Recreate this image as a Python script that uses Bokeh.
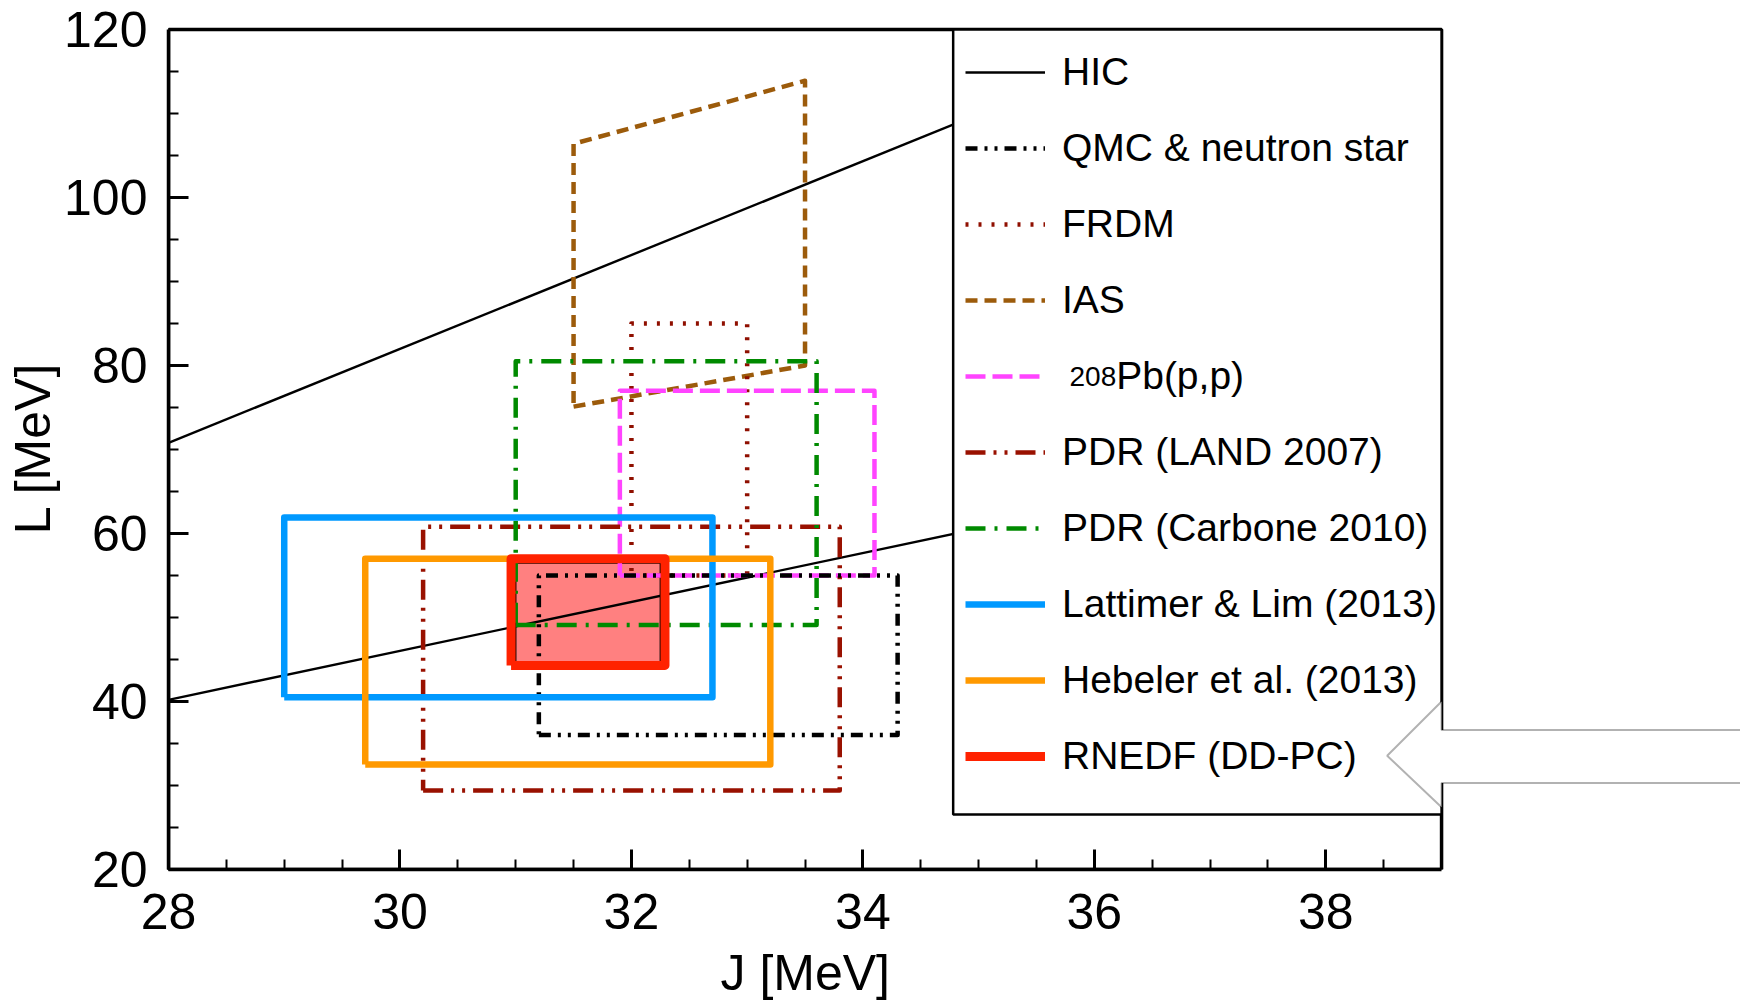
from bokeh.plotting import figure
from bokeh.models import (Range1d, Legend, LegendItem, BoxAnnotation, PolyAnnotation,
                          Label, SingleIntervalTicker, Title)
from bokeh.embed import file_html
from bokeh.resources import INLINE

# HIC band, two straight lines (the rest is hidden by the legend)
hic_j = [28.0, 36.0]
hic_upper = [70.8, 115.5]
hic_lower = [40.2, 63.5]

# rectangular constraints (J range, L range)
rect_keys = ["qmc", "frdm", "pb", "land", "carbone", "lattimer", "hebeler", "rnedf"]
rect_j_lo = [31.2, 32.0, 31.9, 30.2, 31.0, 29.0, 29.7, 30.96]
rect_j_hi = [34.3, 33.0, 34.1, 33.8, 33.6, 32.7, 33.2, 32.29]
rect_l_lo = [36.0, 55.0, 55.0, 29.4, 49.1, 40.5, 32.5, 44.3]
rect_l_hi = [55.0, 85.0, 77.0, 60.8, 80.5, 61.9, 57.0, 57.0]

# IAS parallelogram
ias_j = [31.5, 33.5]
ias_l_lo = [75.1, 80.0]
ias_l_hi = [106.4, 113.9]

# shaded RNEDF region
rnedf_fill_j = [31.0, 32.25]
rnedf_fill_l = [44.6, 56.5]

# legend order
legend_keys = ["hic", "qmc", "frdm", "ias", "pb", "land", "carbone", "lattimer", "hebeler", "rnedf"]
legend_labels = ["HIC", "QMC & neutron star", "FRDM", "IAS",
                 "\u00a0\u00a0\u00a0\u00a0\u00a0Pb(p,p)",
                 "PDR (LAND 2007)", "PDR (Carbone 2010)", "Lattimer & Lim (2013)",
                 "Hebeler et al. (2013)", "RNEDF (DD-PC)"]

# pointer arrow next to the last legend entry
arrow_j = [39.0, 38.53, 39.0, 39.0, 42.0, 42.0, 39.0]
arrow_l = [40.0, 33.55, 27.4, 30.3, 30.3, 36.6, 36.6]

styles = {
    "hic": dict(color="black", width=2.4, dash="solid"),
    "qmc": dict(color="black", width=4.5, dash="12 7 3 7 3 7"),
    "frdm": dict(color="#8f0f00", width=4.5, dash="3 10"),
    "ias": dict(color="#9c5b0b", width=4.5, dash="12 7"),
    "pb": dict(color="#ff44ff", width=4.5, dash="20 7"),
    "land": dict(color="#991100", width=4.5, dash="20 8 3 8 3 8"),
    "carbone": dict(color="#008a00", width=4.5, dash="20 9 3 9"),
    "lattimer": dict(color="#0099ff", width=6.5, dash="solid"),
    "hebeler": dict(color="#ff9900", width=6.5, dash="solid"),
    "rnedf": dict(color="#ff2200", width=9, dash="solid"),
}

FONT = "Liberation Sans"

# the frame runs to the right edge so the arrow can leave the box drawn at J = 39
p = figure(width=1740, height=1000, x_range=Range1d(28, 41.583), y_range=Range1d(20, 120.357),
           output_backend="svg", toolbar_location=None,
           min_border_left=168, min_border_right=0, min_border_top=26, min_border_bottom=130)
p.grid.visible = False
p.outline_line_color = None

p.xaxis.ticker = SingleIntervalTicker(interval=2, num_minor_ticks=4)
p.yaxis.ticker = SingleIntervalTicker(interval=20, num_minor_ticks=4)
p.xaxis.bounds = (28, 39)
p.yaxis.bounds = (20, 120)
p.yaxis.axis_label = "L [MeV]"
for ax in (p.xaxis[0], p.yaxis[0]):
    ax.axis_line_width = 3.5
    ax.major_tick_in = 20
    ax.major_tick_out = 0
    ax.minor_tick_in = 10
    ax.minor_tick_out = 0
    ax.major_tick_line_width = 3
    ax.minor_tick_line_width = 2
    ax.major_label_text_font = FONT
    ax.major_label_text_font_size = "50px"
    ax.major_label_text_color = "black"
    ax.axis_label_text_font = FONT
    ax.axis_label_text_font_size = "50px"
    ax.axis_label_text_font_style = "normal"
    ax.axis_label_text_color = "black"
p.xaxis.major_label_standoff = 24
p.yaxis.major_label_standoff = 21
p.yaxis.axis_label_standoff = 0
# a tiny blank axis label only adds a few pixels between tick labels and the x title
p.xaxis.axis_label = "\u00a0"
p.xaxis.axis_label_text_font_size = "2px"
p.xaxis.axis_label_standoff = 6

# x label centred under the J = 28..39 box, not under the whole frame
p.add_layout(Title(text="J [MeV]", align="left", offset=552, standoff=0, text_font=FONT,
                   text_font_size="50px", text_font_style="normal", text_color="black"),
             "below")

# shaded RNEDF area
p.quad(left=rnedf_fill_j[0], right=rnedf_fill_j[1], bottom=rnedf_fill_l[0], top=rnedf_fill_l[1],
       fill_color="#ff8080", line_color="black", line_width=1.5)

renderers = {}


def draw(key, xs, ys):
    s = styles[key]
    return p.line(xs, ys, line_color=s["color"], line_width=s["width"], line_dash=s["dash"],
                  line_join="round")


renderers["hic"] = draw("hic", hic_j, hic_upper)
draw("hic", hic_j, hic_lower)

renderers["ias"] = draw("ias", [ias_j[0], ias_j[1], ias_j[1], ias_j[0], ias_j[0]],
                        [ias_l_lo[0], ias_l_lo[1], ias_l_hi[1], ias_l_hi[0], ias_l_lo[0]])

rect_order = ["frdm", "pb", "land", "carbone", "qmc", "lattimer", "hebeler", "rnedf"]
for key in rect_order:
    i = rect_keys.index(key)
    x0, x1, y0, y1 = rect_j_lo[i], rect_j_hi[i], rect_l_lo[i], rect_l_hi[i]
    renderers[key] = draw(key, [x0, x1, x1, x0, x0], [y0, y0, y1, y1, y0])

# plot box (top and right edges)
p.add_layout(BoxAnnotation(left=28, right=39, bottom=20, top=120, fill_alpha=0,
                           line_color="black", line_width=3.5, line_alpha=1.0))

# legend frame
p.add_layout(BoxAnnotation(left=34.78, right=39.0, top=120, bottom=26.54, fill_color="white",
                           fill_alpha=1.0, line_color="black", line_width=2.5, line_alpha=1.0))

legend = Legend(items=[LegendItem(label=lab, renderers=[renderers[k]])
                       for k, lab in zip(legend_keys, legend_labels)],
                location=(797, 91), orientation="vertical",
                padding=0, margin=0, spacing=32, glyph_width=80, glyph_height=44,
                label_height=44, label_standoff=17, label_text_font=FONT,
                label_text_font_size="39px", label_text_color="black",
                border_line_alpha=0, background_fill_alpha=0)
p.add_layout(legend)

p.add_layout(Label(x=35.785, y=78.74, text="208", text_font=FONT, text_font_size="28px",
                   text_baseline="alphabetic", text_align="left", text_color="black",
                   level="overlay"))

p.add_layout(PolyAnnotation(xs=arrow_j, ys=arrow_l, fill_color="white", fill_alpha=1.0,
                            line_color="black", line_width=2, level="overlay"))

open("out.html", "w").write(file_html(p, INLINE))
